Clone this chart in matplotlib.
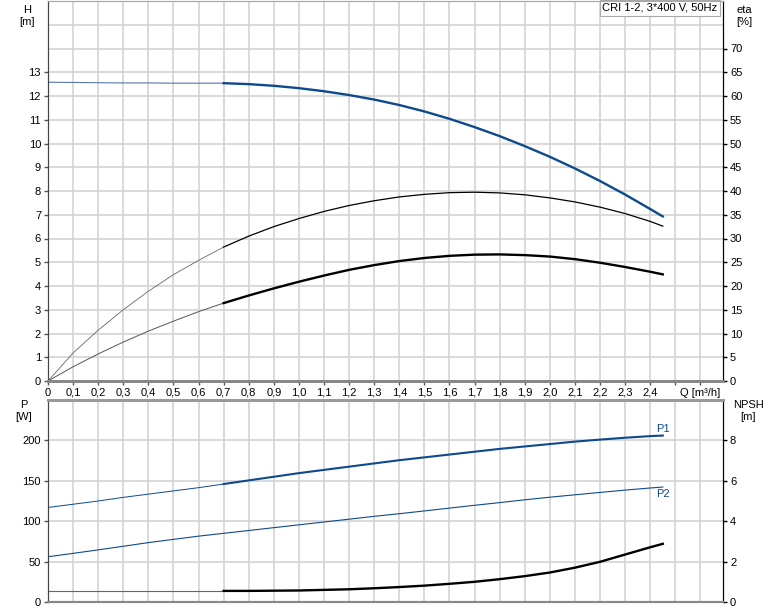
import numpy as np
import matplotlib
matplotlib.use("Agg")
import matplotlib.pyplot as plt

plt.rcParams['font.family'] = ['Liberation Sans', 'DejaVu Sans']

# flow rate Q [m3/h]
q = [0, 0.1, 0.2, 0.3, 0.4, 0.5, 0.6, 0.7, 0.8, 0.9, 1.0, 1.1, 1.2, 1.3,
     1.4, 1.5, 1.6, 1.7, 1.8, 1.9, 2.0, 2.1, 2.2, 2.3, 2.4, 2.45]
# head H [m]
head = [12.58, 12.57, 12.56, 12.55, 12.55, 12.54, 12.54, 12.54, 12.50, 12.43,
        12.33, 12.20, 12.04, 11.85, 11.62, 11.35, 11.04, 10.69, 10.31, 9.89,
        9.44, 8.95, 8.42, 7.85, 7.24, 6.93]
# pump efficiency [%]
eta_pump = [0, 5.9, 10.7, 15.0, 18.9, 22.4, 25.4, 28.2, 30.5, 32.5, 34.2, 35.7,
            36.95, 37.95, 38.75, 39.3, 39.65, 39.75, 39.6, 39.2, 38.55, 37.7,
            36.6, 35.25, 33.6, 32.6]
# total efficiency [%]
eta_total = [0, 3.0, 5.7, 8.2, 10.5, 12.6, 14.6, 16.4, 18.0, 19.5, 20.9, 22.2,
             23.4, 24.4, 25.25, 25.9, 26.35, 26.6, 26.65, 26.5, 26.2, 25.65,
             24.9, 24.0, 23.0, 22.45]
# power P1 / P2 [W]
p1 = [117, 121, 125, 129.5, 133.5, 137.5, 141.5, 146, 150.5, 155, 159.5, 163.5,
      167.5, 171.5, 175.5, 179, 182.5, 186, 189.5, 192.5, 195.5, 198.5, 201,
      203.3, 205.3, 206]
p2 = [56, 60.2, 64.5, 69, 73.5, 77.5, 81.5, 85, 88.5, 92, 95.5, 99, 102.5, 106,
      109.3, 112.7, 116.2, 119.7, 123, 126.5, 129.7, 132.7, 135.6, 138.5,
      141.1, 142.3]
# NPSH [m]
npsh = [0.55, 0.55, 0.55, 0.55, 0.55, 0.55, 0.55, 0.55, 0.55, 0.56, 0.57, 0.6,
        0.63, 0.68, 0.74, 0.81, 0.9, 1.0, 1.13, 1.28, 1.46, 1.7, 1.99, 2.35,
        2.71, 2.88]

xticks = [round(0.1 * i, 1) for i in range(27)]
xlabels = [("%.1f" % v).replace('.', ',') for v in xticks]
xlabels[0] = "0"
xlabels[25] = ""
xlabels[26] = "Q [m³/h]"

blue = "#0d4a8c"
grid_c = "#d3d3d3"
fs = 8

q = np.array(q)
lo = q <= 0.7
hi = q >= 0.7

fig = plt.figure(figsize=(7.74, 6.11), dpi=100)
ax1 = fig.add_axes([48/774, 1-381/611, 675/774, 380/611])
ax2 = fig.add_axes([48/774, 1-602/611, 675/774, 202/611])
XMAX = 2.69

for ax in (ax1, ax2):
    ax.set_xlim(0, XMAX)
    for v in xticks[1:]:
        ax.axvline(v, color=grid_c, lw=1.2, zorder=0)

# ---- top panel: H and eta
ax1.set_ylim(0, 16)
for v in range(1, 16):
    ax1.axhline(v, color=grid_c, lw=1.2, zorder=0)
ax1.set_yticks(range(14))
ax1.set_yticklabels([str(v) for v in range(14)], fontsize=fs)
ax1.set_xticks(xticks)
ax1.set_xticklabels(xlabels, fontsize=fs)
ax1.tick_params(length=3, width=1, color="#555555", pad=2)

ax1.plot(q[lo], np.array(head)[lo], color="#5577aa", lw=0.8)
ax1.plot(q[hi], np.array(head)[hi], color=blue, lw=1.7)
ax1.plot(q[lo], np.array(eta_pump)[lo] / 5, color="#666666", lw=0.6)
ax1.plot(q[hi], np.array(eta_pump)[hi] / 5, color="black", lw=0.9)
ax1.plot(q[lo], np.array(eta_total)[lo] / 5, color="#555555", lw=0.7)
ax1.plot(q[hi], np.array(eta_total)[hi] / 5, color="black", lw=1.7)

ax1r = ax1.twinx()
ax1r.set_ylim(0, 80)
ax1r.set_yticks(range(0, 75, 5))
ax1r.set_yticklabels([str(v) for v in range(0, 75, 5)], fontsize=fs)
ax1r.tick_params(length=3, width=1, pad=2)

for a in (ax1, ax1r):
    a.spines['top'].set_color("#aaaaaa")
    a.spines['bottom'].set_color("#888888")
    a.spines['bottom'].set_linewidth(2)
    a.spines['left'].set_color("#444444")
    a.spines['right'].set_color("black")

fig.text(27/774, 1-5/611, "H\n[m]", ha='center', va='top', fontsize=fs,
         linespacing=1.3)
fig.text(744/774, 1-5/611, "eta\n[%]", ha='center', va='top', fontsize=fs,
         linespacing=1.3)
ax1.text(0.992, 0.995, "CRI 1-2, 3*400 V, 50Hz", transform=ax1.transAxes,
         ha='right', va='top', fontsize=fs,
         bbox=dict(boxstyle='square,pad=0.25', fc='white', ec='#aaaaaa', lw=0.8))

# ---- bottom panel: P and NPSH
ax2.set_ylim(0, 250)
for v in range(50, 250, 50):
    ax2.axhline(v, color=grid_c, lw=1.2, zorder=0)
ax2.set_yticks(range(0, 250, 50))
ax2.set_yticklabels([str(v) for v in range(0, 250, 50)], fontsize=fs)
ax2.set_xticks([])
ax2.tick_params(length=3, width=1, color="#555555", pad=2)

ax2.plot(q[lo], np.array(p1)[lo], color=blue, lw=0.7)
ax2.plot(q[hi], np.array(p1)[hi], color=blue, lw=1.5)
ax2.plot(q, p2, color=blue, lw=0.8)
ax2.plot(q[lo], np.array(npsh)[lo] * 25, color="#666666", lw=0.8)
ax2.plot(q[hi], np.array(npsh)[hi] * 25, color="black", lw=1.7)
ax2.text(q[-1], p1[-1] + 2, "P1", color=blue, fontsize=fs, ha='center', va='bottom')
ax2.text(q[-1], p2[-1] - 3, "P2", color=blue, fontsize=fs, ha='center', va='top')

ax2r = ax2.twinx()
ax2r.set_ylim(0, 10)
ax2r.set_yticks(range(0, 10, 2))
ax2r.set_yticklabels([str(v) for v in range(0, 10, 2)], fontsize=fs)
ax2r.tick_params(length=3, width=1, pad=2)

for a in (ax2, ax2r):
    a.spines['top'].set_color("#999999")
    a.spines['top'].set_linewidth(2)
    a.spines['bottom'].set_color("#888888")
    a.spines['bottom'].set_linewidth(1.5)
    a.spines['left'].set_color("#444444")
    a.spines['right'].set_color("black")

fig.text(24/774, 1-400/611, "P\n[W]", ha='center', va='top', fontsize=fs,
         linespacing=1.3)
fig.text(748/774, 1-400/611, "NPSH\n[m]", ha='center', va='top', fontsize=fs,
         linespacing=1.3)

fig.savefig("out.png", dpi=100)
